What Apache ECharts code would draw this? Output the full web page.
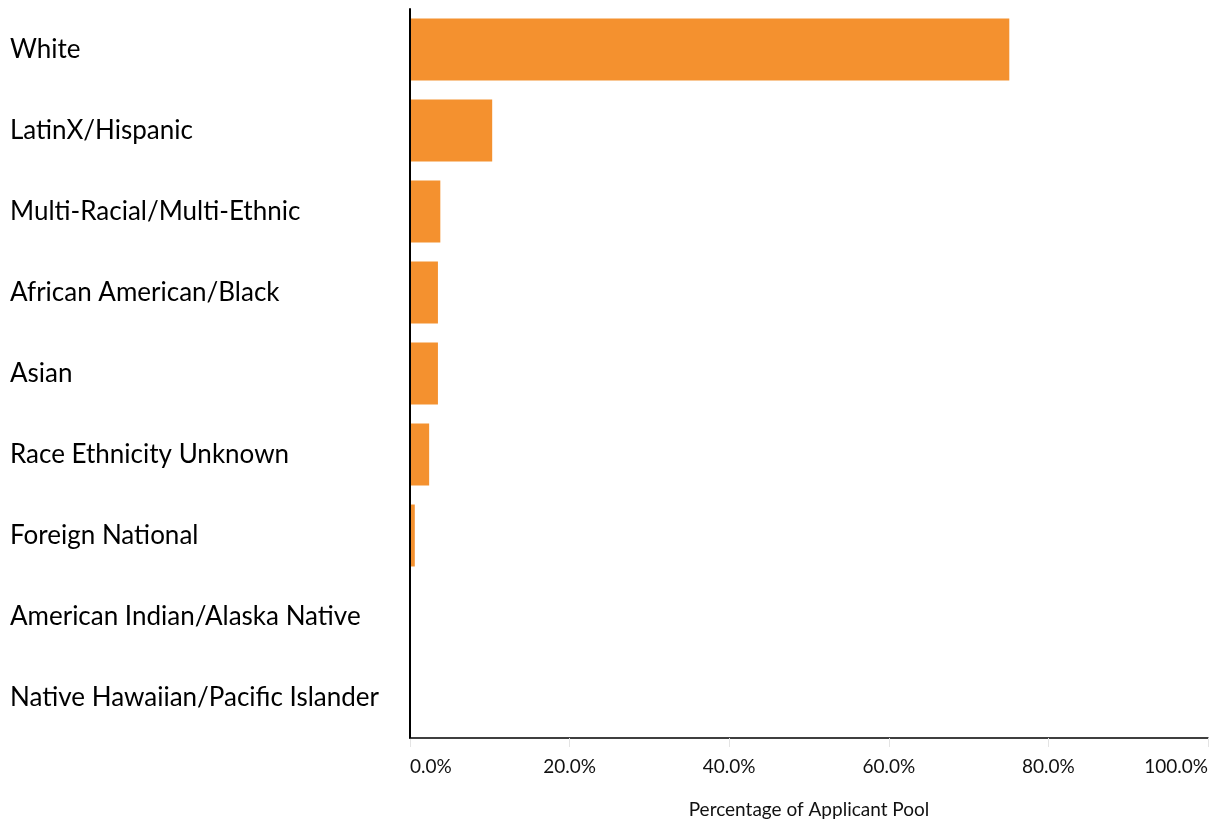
<!DOCTYPE html>
<html>
<head>
<meta charset="utf-8">
<script src="https://cdn.jsdelivr.net/npm/echarts@6/dist/echarts.min.js"></script>
<style>html,body{margin:0;padding:0;background:#fff}#c{width:1212px;height:827px}</style>
</head>
<body>
<div id="c"></div>
<script>
const categories = ["White","LatinX/Hispanic","Multi-Racial/Multi-Ethnic","African American/Black","Asian","Race Ethnicity Unknown","Foreign National","American Indian/Alaska Native","Native Hawaiian/Pacific Islander"];
const values = [75.1, 10.3, 3.8, 3.5, 3.5, 2.4, 0.6, 0, 0];
const xTicks = [0, 20, 40, 60, 80, 100];

const chart = echarts.init(document.getElementById('c'), null, {renderer:'canvas'});
const FONT = 'Lato';
chart.setOption({
  animation:false,
  grid:{left:410, right:4, top:9, bottom:89, containLabel:false},
  xAxis:{
    type:'value', min:xTicks[0], max:xTicks[xTicks.length-1], interval:20,
    name:'Percentage of Applicant Pool', nameLocation:'middle', nameGap:62,
    nameTextStyle:{fontFamily:FONT, fontSize:19, color:'#111'},
    axisLine:{show:true, lineStyle:{color:'#000', width:1.5}},
    axisTick:{show:true, length:9, lineStyle:{color:'#e4e4e4', width:1}},
    splitLine:{show:false},
    axisLabel:{fontFamily:FONT, fontSize:19, color:'#111', margin:19,
      alignMinLabel:'left', alignMaxLabel:'right',
      formatter:v=>v.toFixed(1)+'%'}
  },
  yAxis:{
    type:'category', data:categories, inverse:true, z:5,
    axisLine:{show:true, lineStyle:{color:'#000', width:2}},
    axisTick:{show:false},
    axisLabel:{fontFamily:FONT, fontSize:26, color:'#000', align:'left', margin:400}
  },
  series:[{
    type:'bar', data:values, barCategoryGap:'23.5%',
    itemStyle:{color:'#F4912F'}
  }]
});
</script>
</body>
</html>
